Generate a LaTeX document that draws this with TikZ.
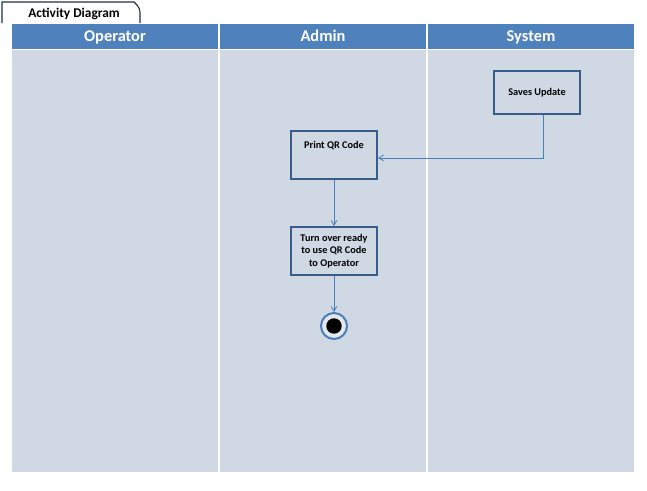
\documentclass[tikz,border=0pt]{standalone}
\usepackage{fontspec}
\setmainfont{Carlito}
\usetikzlibrary{arrows,positioning}
\definecolor{hdrblue}{RGB}{79,129,189}
\definecolor{lanebg}{RGB}{208,216,228}
\definecolor{boxline}{RGB}{56,93,138}
\definecolor{flowline}{RGB}{74,126,187}
\definecolor{tabline}{RGB}{31,47,68}
\begin{document}
\begin{tikzpicture}[x=0.75pt,y=-0.75pt]
\tikzstyle {act}=[rectangle, minimum width=64.5pt, minimum height=36pt, draw=boxline, line width=1.4pt, fill=lanebg, font=\bfseries\fontsize{7.7}{9.4}\selectfont, align=center, inner sep=1pt]
\tikzstyle {hdr}=[text=white, anchor=base, font=\bfseries\fontsize{12.3}{14}\selectfont]
\tikzstyle {flow}=[draw=flowline, line width=0.6pt, ->, >=angle 60]
\useasboundingbox (0,0) rectangle (647,490);
% lanes
\fill[hdrblue] (12,24) rectangle (634,49);
\fill[lanebg] (12,50) rectangle (634,472);
\draw[white, line width=1pt] (219,24) -- (219,472);
\draw[white, line width=1pt] (427,24) -- (427,472);
\node (operator) [hdr] at (115,41) {Operator};
\node (admin) [hdr] at (323,41) {Admin};
\node (system) [hdr] at (531,41) {System};
% title tab
\draw[tabline, fill=white, line width=0.8pt] (2,23) -- (2,2) -- (134,2) [rounded corners=3pt] -- (140,8) [sharp corners] -- (140,23);
\node (title) [font=\bfseries\fontsize{10}{12}\selectfont, anchor=base] at (74,17) {Activity Diagram};
% activities
\node (saves) [act, minimum height=32.25pt] at (537,92.5) {Saves Update};
\node (print) [act, anchor=north, inner ysep=0pt, text height=13.5pt, text depth=22.5pt] at (334,130) {Print QR Code};
\node (turn) [act] at (334,251) {Turn over ready\\to use QR Code\\to Operator};
\node (end) [circle, draw=flowline, line width=1.5pt, fill=lanebg!60!white, minimum size=19.5pt, inner sep=0pt] at (334,326) {};
\fill (end.center) circle (5.8pt);
% flows
\draw[flow] ([xshift=4.5pt]saves.south) |- ([yshift=-2.25pt]print.east);
\draw[flow] (print.south) -- (turn.north);
\draw[flow] (turn.south) -- (end.north);
\end{tikzpicture}
\end{document}
